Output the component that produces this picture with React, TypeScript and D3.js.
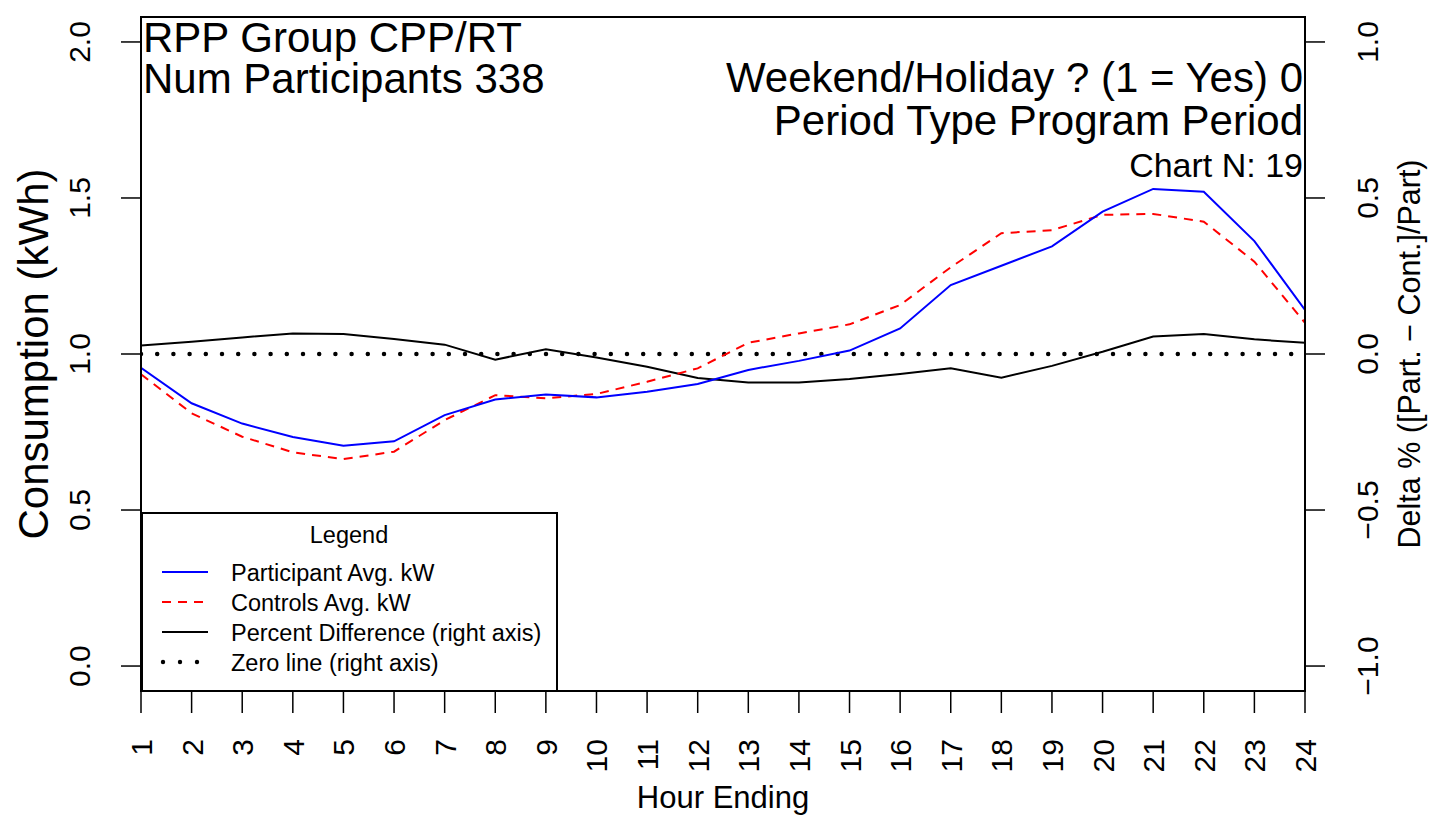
import * as d3 from "d3";
import { useEffect, useRef } from "react";

const hours = d3.range(1, 25);
const participantKw = [
  0.956, 0.842, 0.777, 0.734, 0.706, 0.72, 0.804, 0.854, 0.87, 0.861, 0.879, 0.904,
  0.949, 0.978, 1.011, 1.082, 1.221, 1.283, 1.345, 1.456, 1.529, 1.52, 1.362, 1.141,
];
const controlsKw = [
  0.935, 0.81, 0.735, 0.685, 0.663, 0.687, 0.788, 0.868, 0.858, 0.872, 0.911, 0.954,
  1.036, 1.066, 1.095, 1.157, 1.278, 1.387, 1.397, 1.446, 1.449, 1.424, 1.296, 1.1,
];
const pctDiff = [
  0.027, 0.039, 0.053, 0.066, 0.064, 0.048, 0.03, -0.018, 0.015, -0.011, -0.041, -0.077,
  -0.091, -0.091, -0.08, -0.064, -0.046, -0.076, -0.038, 0.007, 0.056, 0.064, 0.047, 0.036,
];
const leftTicks = [0, 0.5, 1, 1.5, 2];
const rightTicks = [-1, -0.5, 0, 0.5, 1];
const topLeftText = ["RPP Group CPP/RT", "Num Participants 338"];
const topRightText = ["Weekend/Holiday ? (1 = Yes) 0", "Period Type Program Period"];
const chartNText = "Chart N: 19";
const legendItems = [
  { label: "Participant Avg. kW", color: "blue", dash: null },
  { label: "Controls Avg. kW", color: "red", dash: "9 7" },
  { label: "Percent Difference (right axis)", color: "black", dash: null },
  { label: "Zero line (right axis)", color: "black", dash: "dot" },
];

const FONT = "'Liberation Sans', Arial, Helvetica, sans-serif";

const App = () => {
  const ref = useRef<SVGSVGElement | null>(null);

  useEffect(() => {
    const svg = d3.select(ref.current);
    svg.selectAll("*").remove();

    const width = 1429,
      height = 819;
    const left = 141,
      right = 1305,
      top = 17,
      bottom = 691;

    svg.attr("width", width).attr("height", height).style("font-family", FONT);

    const x = d3.scaleLinear().domain([1, 24]).range([left, right]);
    const yL = d3.scaleLinear().domain([-0.08, 2.08]).range([bottom, top]);
    const yR = d3.scaleLinear().domain([-1.08, 1.08]).range([bottom, top]);

    svg
      .append("defs")
      .append("clipPath")
      .attr("id", "plotClip")
      .append("rect")
      .attr("x", left)
      .attr("y", top)
      .attr("width", right - left)
      .attr("height", bottom - top);

    const plot = svg.append("g").attr("clip-path", "url(#plotClip)");

    // zero line on the right axis
    plot
      .append("line")
      .attr("x1", left)
      .attr("x2", right)
      .attr("y1", yR(0))
      .attr("y2", yR(0))
      .attr("stroke", "black")
      .attr("stroke-width", 4.5)
      .attr("stroke-linecap", "round")
      .attr("stroke-dasharray", "0 16.2");

    const lineL = (vals: number[]) =>
      d3
        .line<number>()
        .x((_, i) => x(hours[i]))
        .y((d) => yL(d))(vals);
    const lineR = d3
      .line<number>()
      .x((_, i) => x(hours[i]))
      .y((d) => yR(d));

    plot
      .append("path")
      .attr("d", lineR(pctDiff))
      .attr("fill", "none")
      .attr("stroke", "black")
      .attr("stroke-width", 2);

    plot
      .append("path")
      .attr("d", lineL(controlsKw))
      .attr("fill", "none")
      .attr("stroke", "red")
      .attr("stroke-width", 2)
      .attr("stroke-dasharray", "9 7");

    plot
      .append("path")
      .attr("d", lineL(participantKw))
      .attr("fill", "none")
      .attr("stroke", "blue")
      .attr("stroke-width", 2);

    // box
    svg
      .append("rect")
      .attr("x", left)
      .attr("y", top)
      .attr("width", right - left)
      .attr("height", bottom - top)
      .attr("fill", "none")
      .attr("stroke", "black")
      .attr("stroke-width", 2);

    // left axis
    const gl = svg.append("g");
    gl.selectAll("line")
      .data(leftTicks)
      .enter()
      .append("line")
      .attr("x1", left - 20)
      .attr("x2", left)
      .attr("y1", (d) => yL(d))
      .attr("y2", (d) => yL(d))
      .attr("stroke", "black")
      .attr("stroke-width", 1.5);
    gl.selectAll("text")
      .data(leftTicks)
      .enter()
      .append("text")
      .attr("transform", (d) => `translate(90, ${yL(d)}) rotate(-90)`)
      .attr("text-anchor", "middle")
      .attr("font-size", 30)
      .text((d) => d3.format(".1f")(d));

    // right axis
    const gr = svg.append("g");
    gr.selectAll("line")
      .data(rightTicks)
      .enter()
      .append("line")
      .attr("x1", right)
      .attr("x2", right + 20)
      .attr("y1", (d) => yR(d))
      .attr("y2", (d) => yR(d))
      .attr("stroke", "black")
      .attr("stroke-width", 1.5);
    gr.selectAll("text")
      .data(rightTicks)
      .enter()
      .append("text")
      .attr("transform", (d) => `translate(1378, ${yR(d)}) rotate(-90)`)
      .attr("text-anchor", "middle")
      .attr("font-size", 30)
      .text((d) => d3.format(".1f")(d).replace("-", "\u2212"));

    // bottom axis
    const gb = svg.append("g");
    gb.selectAll("line")
      .data(hours)
      .enter()
      .append("line")
      .attr("x1", (d) => x(d))
      .attr("x2", (d) => x(d))
      .attr("y1", bottom)
      .attr("y2", bottom + 22)
      .attr("stroke", "black")
      .attr("stroke-width", 1.5);
    gb.selectAll("text")
      .data(hours)
      .enter()
      .append("text")
      .attr("transform", (d) => `translate(${x(d) + 11}, 739) rotate(-90)`)
      .attr("text-anchor", "end")
      .attr("font-size", 30)
      .text((d) => String(d));

    // axis titles
    svg
      .append("text")
      .attr("x", (left + right) / 2)
      .attr("y", 808)
      .attr("text-anchor", "middle")
      .attr("font-size", 31)
      .text("Hour Ending");
    svg
      .append("text")
      .attr("transform", `translate(48, ${yL(1)}) rotate(-90)`)
      .attr("text-anchor", "middle")
      .attr("font-size", 42)
      .text("Consumption (kWh)");
    svg
      .append("text")
      .attr("transform", `translate(1420, ${yR(0)}) rotate(-90)`)
      .attr("text-anchor", "middle")
      .attr("font-size", 30.5)
      .text("Delta % ([Part. \u2212 Cont.]/Part)");

    // annotations
    topLeftText.forEach((t, i) => {
      svg
        .append("text")
        .attr("x", 143)
        .attr("y", 52 + i * 41)
        .attr("font-size", 42)
        .text(t);
    });
    topRightText.forEach((t, i) => {
      svg
        .append("text")
        .attr("x", 1303)
        .attr("y", 92 + i * 43)
        .attr("text-anchor", "end")
        .attr("font-size", 42)
        .text(t);
    });
    svg
      .append("text")
      .attr("x", 1303)
      .attr("y", 177)
      .attr("text-anchor", "end")
      .attr("font-size", 34)
      .text(chartNText);

    // legend
    const lg = svg.append("g");
    lg.append("rect")
      .attr("x", 142)
      .attr("y", 513)
      .attr("width", 415)
      .attr("height", 178)
      .attr("fill", "white")
      .attr("stroke", "black")
      .attr("stroke-width", 2);
    lg.append("text")
      .attr("x", 349)
      .attr("y", 543)
      .attr("text-anchor", "middle")
      .attr("font-size", 23.5)
      .text("Legend");
    legendItems.forEach((item, i) => {
      const yy = 572 + i * 30;
      if (item.dash === "dot") {
        [163, 180, 197].forEach((dx) => {
          lg.append("circle").attr("cx", dx).attr("cy", yy).attr("r", 2.2).attr("fill", "black");
        });
      } else {
        lg.append("line")
          .attr("x1", 162)
          .attr("x2", 208)
          .attr("y1", yy)
          .attr("y2", yy)
          .attr("stroke", item.color)
          .attr("stroke-width", 2)
          .attr("stroke-dasharray", item.dash ?? null);
      }
      lg.append("text")
        .attr("x", 231)
        .attr("y", yy + 9)
        .attr("font-size", 23.5)
        .text(item.label);
    });
  }, []);

  return (
    <svg
      ref={ref}
      style={{ position: "absolute", left: 0, top: 0, background: "white" }}
    ></svg>
  );
};

export default App;
